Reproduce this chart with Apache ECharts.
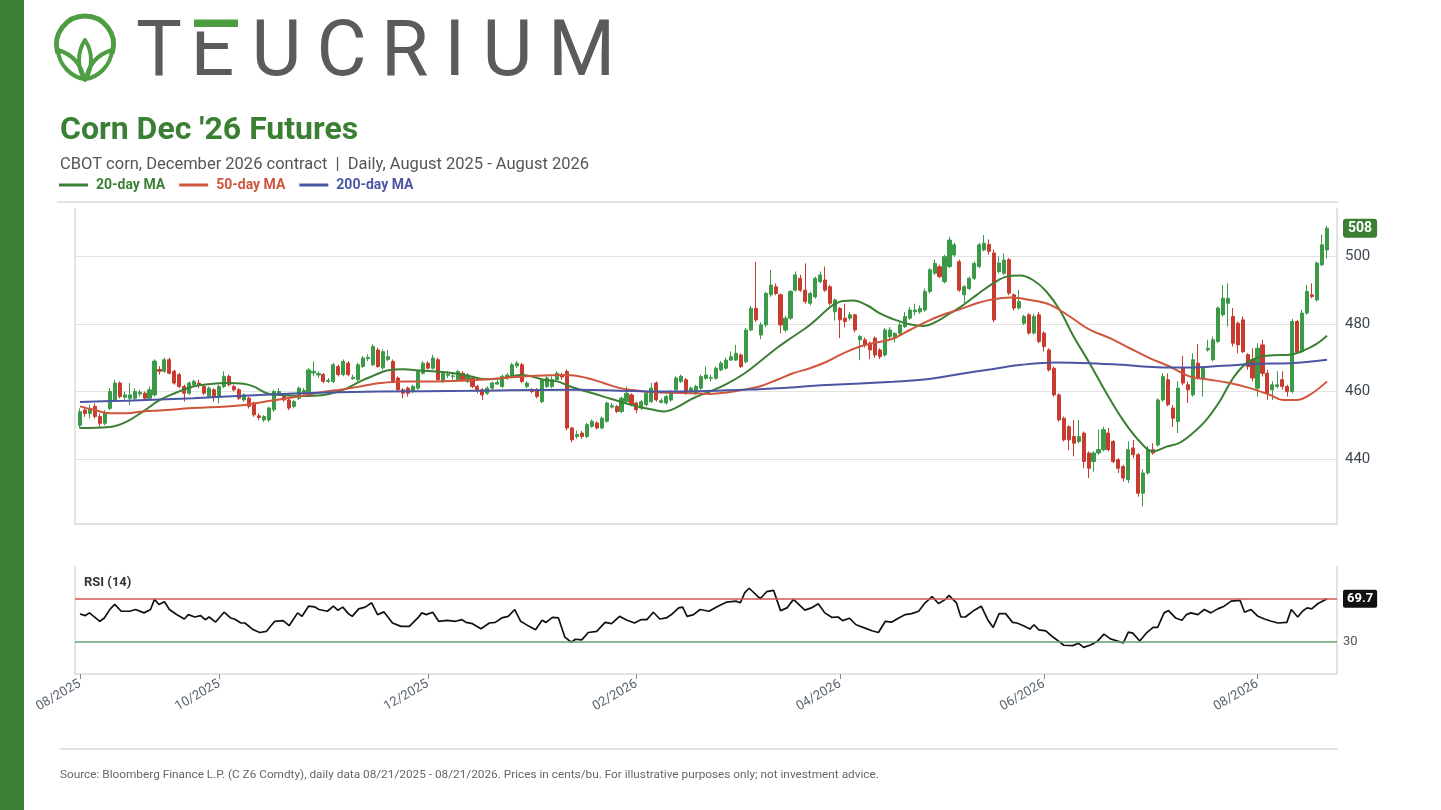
<!DOCTYPE html>
<html>
<head>
<meta charset="utf-8">
<script src="https://cdn.jsdelivr.net/npm/echarts@6.0.0/dist/echarts.min.js"></script>
<style>
html,body{margin:0;padding:0;background:#fff;}
#wrap{position:relative;width:1441px;height:810px;overflow:hidden;}
#chart{position:absolute;left:0;top:0;width:1441px;height:810px;}
#logo{position:absolute;left:0;top:0;}
</style>
</head>
<body>
<div id="wrap">
<div id="chart"></div>
<svg id="logo" width="640" height="100" xmlns="http://www.w3.org/2000/svg">
  <path d="M 57.5 52 A 28.5 28.5 0 1 1 112.5 52" fill="none" stroke="#4e9d43" stroke-width="5" stroke-linecap="round"/>
  <path d="M 84 79 C 72 77, 59 66, 58 50 C 71 54, 81 63, 84 79 Z" fill="none" stroke="#4e9d43" stroke-width="4" stroke-linejoin="round"/>
  <path d="M 86 79 C 98 77, 111 66, 112 50 C 99 54, 89 63, 86 79 Z" fill="none" stroke="#4e9d43" stroke-width="4" stroke-linejoin="round"/>
  <path d="M 85 80 C 77 68, 77 52, 85 40 C 93 52, 93 68, 85 80 Z" fill="none" stroke="#4e9d43" stroke-width="4" stroke-linejoin="round"/>
  <text x="136 190.5 251.6 316.4 381 444.3 482.5 548" y="75" font-family="Roboto" font-size="77" font-weight="400" fill="#5a5b5d">TEUCRIUM</text>
  <rect x="194" y="19.5" width="44" height="7.5" fill="#4e9d43"/>
  <rect x="194" y="27" width="12" height="4.5" fill="#ffffff"/>
</svg>
</div>
<script>
// ---------- text ----------
const TITLE = "Corn Dec '26 Futures";
const SUBTITLE = "CBOT corn, December 2026 contract  |  Daily, August 2025 - August 2026";
const SOURCE = "Source: Bloomberg Finance L.P. (C Z6 Comdty), daily data 08/21/2025 - 08/21/2026. Prices in cents/bu. For illustrative purposes only; not investment advice.";
const RSI_TITLE = "RSI (14)";

// ---------- x axis (trading-day index) ----------
const monthTickIdx = [0, 28, 70, 112, 153, 194, 237];
const monthTickLabels = ['08/2025', '10/2025', '12/2025', '02/2026', '04/2026', '06/2026', '08/2026'];
const priceTicks = [440, 460, 480, 500];
const rsiTicks = [30];

// ---------- daily OHLC (cents/bu), 252 trading days ----------
const opens = [
450,454.5,453.5,455.6,452.6,450.6,455,457.5,462.5,458.3,
458,458,459.3,459.5,458,459,466.5,466,469.4,466,
465,461.5,459.5,462,462.5,461.5,458.5,460.5,458.5,461.5,
464.5,461.5,460.5,457.5,458,456.6,452.8,451.6,451.6,454.6,
459.5,458.5,457.5,455.6,458,459.8,460,465.5,464.9,465,
463,463,467.4,465,468.4,463.8,463.5,467.4,469.7,467.9,
472.3,467,469.5,468.9,464,460.5,461,460,461,465.4,
468.4,466.9,469.4,463,464.8,464.5,463.5,465.4,463,464,
461.5,460.5,459.5,461,462.2,461.5,464,464.5,467.6,467.9,
461.5,460.5,460.5,457,461.5,461.5,463.5,464.8,465.9,449.2,
446.7,447.7,446.7,449.7,450.7,449.2,451.2,455.4,455.6,454.1,
457,459,456.6,455.1,456.1,457,462.5,456.8,456.6,457.5,
460.5,463,463.5,460,459.5,461,463.9,463.9,463.9,466.4,
466.9,469.3,469.3,470.8,468.8,478.2,484.6,476.7,479.7,488.6,
491,488.6,478.2,481.7,490,493.5,490,486.1,488,492.5,
493,491,483.6,484.6,481.7,481.7,482.7,475.3,475.3,474.3,
475.8,472.3,470.8,476.2,475.8,477.2,479.2,481.7,483.6,483.6,
484.1,489.6,495,496.9,492.5,497,500.4,498.4,488.6,490.5,
493.5,497,501.9,503.5,501,495.5,495,499,488.6,484.7,
480.2,482.7,477.3,482.7,477.3,472.3,466.9,459,452.1,449.6,
446.7,445.2,447.7,441.8,439.3,441.8,442.8,447.7,445.2,439.8,
437.8,433.9,443.3,441.3,429.9,435.9,442.8,444.2,457.5,463.5,
455.1,451.1,466.9,462,459,468.4,464,472.3,469.4,474.8,
482.7,486.1,482.2,480.2,481.2,470.9,469.4,461,473.8,465.4,
460.5,461.5,463.5,461.5,460,480.7,471.8,483.2,488.6,487.1,
497.5,501.9];
const closes = [
454,453.5,455,452.6,450.6,453.6,460,462.5,458.5,459,
459,460,459.8,458,460.5,469,466,469.4,465.4,462.5,
461.5,459.5,462.5,463,462,459.5,461,458.5,461.5,464.5,
462,460.5,458,459,455.6,453.1,452.3,452.6,455.1,460,
460,457.5,455.1,457,461,460.3,466.4,466,465.3,463,
463.3,467.9,465,468.9,465,464.2,467.9,469.9,470.1,473.3,
467.4,471.8,470.3,463,460.5,459.5,459.5,461.5,465.9,468.4,
466.9,469.9,463.5,465.4,465,464.6,465.9,463.5,464.9,461.5,
460.5,459,461,462.5,462.7,464.5,464.9,467.9,468.4,463,
462.5,460,458.5,463.5,464,463.5,465.4,464.3,449.2,445.7,
447.3,446.7,450.2,451.2,449.2,452.1,456.6,455.8,454.1,458,
459.5,456.1,454.6,457,459.5,461,457.5,457.3,458.5,460,
464,464.5,459.5,461,461.5,464.4,464.9,464.1,466.9,468.4,
469.3,470.3,471.3,467.4,478.2,484.6,481.2,479.7,489,491.5,
489,479.7,481.7,489.6,494.5,490,486.6,489,493.5,494.5,
490,486.1,487.1,481.2,480.7,482.7,478.2,476.3,473.8,472.3,
470.8,470.3,478.2,478.2,477.2,479.7,482.2,484.1,484.1,484.6,
489.6,496,497.9,494,499.9,504.8,503.4,490,491,493.5,
497.9,503.4,503.9,501.5,481.2,498,498.9,489.1,484.7,486.6,
482.2,477.3,482.2,474.8,473.3,466.4,459,451.6,445.7,445.7,
444.7,446.7,439.3,437.3,441.8,442.8,448.7,442.8,439.3,437.3,
434.4,442.8,441.3,429.9,435.9,442.8,441.8,457.5,464.4,456.1,
452.1,461,462.5,460.5,469.4,464,466.9,472.8,475.3,484.7,
487.6,487.6,474.3,473.8,471.8,467.4,464,472.8,465.4,459.5,
462,462,461.5,460,480.7,471.8,483.2,489.6,488.1,498,
503.4,508.3];
const lows = [
449,452.5,452,452,449.5,450,454.5,457,458,457.5,
456,457.5,458.5,457.5,457.5,458.5,465,465.5,465,462,
461,457,459,461.5,461,459,458,457,456.5,461,
461.5,460,457.5,457,455,452.5,451.5,451,451,454,
459,457,454.5,455,457.5,459,459.5,464.5,464,462.5,
462.5,462.5,464.5,464.5,464.5,463.5,463,467,469,467.5,
467,466.5,469,462.5,460,458,458.5,459.5,460.5,465,
466.5,466.5,463,462.5,464,463.5,463,463,462.5,461,
459.5,457.5,459,460.5,462,461,463.5,464,467,462.5,
461,459.5,458,456.5,461,461,463,463.5,448.5,445,
446,446,446.2,449.3,448.8,448.8,450.8,455,453.6,453.6,
456.6,455.6,453.6,454.6,455.6,456.6,457,456.5,456.1,457,
460,462.5,459,459.5,459,460.5,463.5,463,463.5,466,
466.5,469,469,467,468.3,477.8,480.5,475.5,479,488,
488.5,477.2,477.5,481.2,489.6,489.5,486,485.5,487.5,492,
489.5,485.5,481,475.8,479,481,477.5,469.3,473,469.6,
469.9,469.6,470.3,475.5,474.5,476.5,478.8,481.2,482.5,483,
483.6,489,494.5,493.5,492,496.5,499.9,489.5,485.6,490,
493,496.5,501.5,500.5,480.5,495,494.5,488.5,484,484.2,
479.7,476.8,476.8,474.3,471.8,465.9,458.5,451.1,445.2,442.6,
440.8,444.7,437.3,434.4,436.3,441.3,442.3,442.3,438.8,435.9,
433.4,432.9,440.3,428.9,426,435.4,441.3,443.7,457,455.6,
449.5,447.7,461.9,456.6,458.5,463.5,458.5,471.8,468.9,474.3,
482.2,479.2,473.3,471.3,471.3,466.4,463,458.5,464.4,457.5,
457.5,461,460.5,458.5,459.5,471.3,471.3,482.7,487.6,486.6,
497,499.4];
const highs = [
455,455.5,456,456.5,453.5,454.5,461,463.5,463,460,
462.5,461,460.5,460,461.5,469.5,467.5,470,470,466.5,
465.5,462,463,463.5,463.5,462,461.5,461,462,466,
465,462,461,459.5,458.5,457,453.5,453,455.5,460.5,
461,459.5,458,457.5,461.5,461,467,468.9,466,465.5,
464,468.5,468,469.5,469,465,468.5,470.5,471,474,
473,472.5,472.3,469.5,464.5,461,461.5,462,466.5,469,
469,470.9,470,466,466,465.5,466.5,466,465.5,464.5,
462,461,461.5,463,463.5,465,465.5,468.5,469,468.5,
463,461,461,464,464.5,464.5,466,465.5,466.5,449.5,
448.5,448.3,450.7,451.7,451.2,452.6,457,456.6,456,458.5,
461.5,459.5,457,457.5,460,462.5,463,458,459,460.5,
464.5,465,464,461.5,462,465,467.4,465,467.4,469,
470,471.8,473.8,471.3,478.8,485.3,498.4,480.5,489.5,496,
492,489,482.5,490,495.5,494.5,497.9,489.5,494,495.5,
497,491.5,487.5,485,486,483.5,483,476.7,476,474.8,
476.3,472.8,478.8,479,477.5,480.5,483.5,485,486,485.5,
490.5,496.5,499,497.5,500.5,505.8,504,499,491.5,494,
498.5,504,506.3,505,502,500,500.9,499.5,489,490.1,
482.7,483.2,483,483.5,477.8,472.8,467.4,459.5,452.6,450,
451.6,451.6,448.2,442.3,442.3,448.7,449.6,449.2,445.7,440.3,
438.3,445.2,445.7,441.8,437,443.8,444.7,458,465.4,465.4,
456,463,470.5,463,471.3,474,467.4,475.3,476.3,485.2,
491.5,492,484.7,480.7,482.2,471.3,472.8,474.3,475.3,466.4,
463,466,466,462,481.5,481.2,484.2,491.5,492,498.5,
506.4,509];

// ---------- moving averages: [trading-day index, value] ----------
const ma20 = [[0,449.2],[6,449.5],[9.4,451.1],[12.7,454.1],[16.1,457.5],[19.1,459.5],[22.8,461.5],[26.2,462.2],[29.5,462.5],[32.9,462.3],[34.9,461.5],[37.6,459.5],[40.3,459],[44.3,458.7],[49,459],[53,460.5],[56.4,463],[59.1,464.7],[61.8,466.2],[65.1,466.6],[68.5,466.2],[71.8,465.9],[75.2,465.4],[78.5,464.5],[81.9,463.6],[85.2,464],[88.6,464.9],[90.6,464.6],[93.3,463.5],[96,463],[98.7,461.5],[102,460],[105.4,458.5],[108.7,457],[112.1,455.6],[115.4,454.6],[117.5,454.1],[120.1,455.3],[123.4,458],[126.8,460],[130.1,462.2],[133.5,465.1],[136.8,468.8],[140.2,472.8],[143.5,476.2],[146.9,479.7],[150.3,484.1],[151.6,485.6],[153.6,486.8],[155.6,486.9],[158.3,485.6],[161,483.1],[163.7,481.4],[167,479.9],[169.7,479.4],[172.4,480.7],[175.1,483.1],[177.1,484.9],[180.5,488.6],[183.8,492],[186.5,494],[189.2,494.3],[191.8,493],[194.5,489.6],[197.2,484.1],[199.9,476.5],[203.2,468.4],[206.6,459.5],[209.9,451.6],[213.3,445.2],[216,442.3],[218.7,443.7],[221.4,444.9],[224,447.7],[226.7,451.6],[229.4,457.1],[232.1,464],[234.8,468.4],[237.5,470.2],[240.1,470.7],[243.5,470.9],[246.2,472.1],[248.9,474.1],[251,476.5]];
const ma50 = [[0,455.6],[2.7,454.6],[6,453.6],[9.4,453.6],[12.7,454.1],[16.1,454.4],[22.8,455.1],[29.5,455.6],[33.6,456.1],[37.6,457.1],[43,458.3],[48.3,459.7],[53,460.7],[56.4,461.5],[60.4,462.5],[65.1,463],[71.8,463],[78.5,463.3],[85.2,464],[91.9,464.7],[98,464.9],[102,464],[105.4,462.5],[108.7,461],[112.1,460.3],[115.4,459.8],[119,459.6],[123.4,459.5],[126.8,459.3],[130.1,459.7],[133.5,460.5],[136.8,461.5],[140.2,463.4],[143.5,465.4],[146.9,466.9],[150.3,468.8],[153.6,471.3],[157,473.3],[160.3,474.5],[163.7,475.7],[167,478.2],[170.4,480.7],[173.7,482.7],[177.1,484.3],[180.5,486.1],[183.8,487.3],[187.2,487.8],[191.2,487.1],[195.2,485.7],[199.2,482.2],[203.2,478.3],[207.3,475.8],[211.3,472.8],[215.3,469.9],[219.3,467.4],[223.4,464.4],[227.4,463.5],[231.4,462.5],[235.5,461],[239.5,459],[242.2,457.5],[244.8,457.5],[247.5,459],[251,463]];
const ma200 = [[0,456.9],[9.4,457.3],[22.8,458],[36.2,459],[49.7,459.7],[60.4,460],[78.5,460.2],[98.7,460.5],[118.8,460],[136.8,460.7],[150.3,461.9],[163.7,462.9],[170.4,463.6],[177.1,465.2],[183.5,466.6],[189.5,467.9],[196.5,468.6],[203.2,468.4],[209.9,467.9],[216.7,467.2],[223.4,467.1],[230.1,467.6],[236.8,468.2],[243.5,468.4],[251,469.4]];

// ---------- RSI(14): [trading-day index, value] ----------
const rsi14 = [[0,55.6],[1.1,54.1],[1.9,56.6],[4,48.8],[4.9,51.9],[6.1,60.3],[7,64.4],[8.3,58.1],[10,58.1],[11.2,59.7],[12.9,56.6],[14.2,59.7],[15,69.1],[15.9,64.4],[17,66.9],[18,59.7],[19.3,55.6],[21,50.9],[21.8,55],[23.1,52.8],[24.3,54.1],[25.2,50.3],[26,52.8],[27.3,48.1],[29,57.2],[30.3,51.9],[31.1,50.9],[32.4,47.2],[33.2,47.2],[34.9,40.9],[36.2,38.4],[37.5,39.4],[39.2,48.8],[40.9,49.4],[42.1,44.7],[43.8,56.6],[44.7,53.4],[46,62.8],[47.2,62.2],[48.1,59.7],[49.8,58.1],[51,62.8],[51.9,59.1],[52.9,61.9],[54,55.9],[54.8,53.4],[56.1,60.3],[57.4,61.9],[58.7,65.9],[59.9,55],[61.2,57.5],[62.9,47.2],[64.6,44.1],[66.3,44.1],[68,51.9],[68.8,56.6],[69.7,55],[71,57.2],[72.2,48.8],[73.9,49.7],[75.6,48.8],[76.9,50.3],[77.7,47.8],[79,46.6],[80.7,41.9],[82.4,47.2],[83.6,47.8],[84.9,51.9],[86.2,53.4],[87.5,59.7],[88.7,48.8],[90.4,44.1],[91.7,40.9],[93,49.7],[93.8,47.8],[95.1,52.5],[96.3,51.9],[97.6,34.1],[98.9,29.4],[99.7,32.2],[101,31.6],[102.3,38.4],[104,39.4],[105.7,47.8],[107,46.6],[108.6,53.4],[109.9,50.3],[111.6,47.2],[112.9,50.3],[114.1,50.3],[115.4,57.2],[116.7,50.9],[118,51.9],[119.2,55.6],[120.5,61.3],[121.3,61.9],[122.2,53.4],[123.5,55],[124.8,59.7],[126.6,58.1],[128.4,62.8],[130.2,66.6],[132,67.5],[132.9,65.9],[133.8,75.3],[134.7,79.4],[136.9,69.7],[138.2,76.2],[139.6,77.5],[141,58.7],[142.3,61.2],[143.6,69.1],[145.9,59.1],[147.2,61.2],[148.6,65],[149.9,56.6],[151.3,52.5],[152.6,52.8],[153.5,49.4],[154.9,51.6],[156.2,45.6],[158,42.5],[159.4,40],[160.7,38.4],[162.1,48.8],[163.4,48.1],[164.8,51.9],[166.1,55],[167.4,55.9],[168.8,58.1],[170.1,65.9],[171.5,71.6],[172.8,65.3],[174.2,69.1],[174.9,72.8],[176.4,65.9],[177.3,52.8],[178.2,52.8],[180,59.1],[181.4,62.8],[182.7,50.3],[183.8,43.1],[185,55.9],[186.3,55.9],[187.7,47.8],[188.6,47.2],[189.9,44.7],[191.2,41.6],[192,45.6],[193,40.9],[194.4,40],[195.7,34.7],[197.1,30],[198,26.6],[199.8,26.3],[201,28.4],[202,24.7],[203.4,26.9],[204.7,30],[206.1,36.9],[207.4,32.5],[208.8,30.6],[210,28.8],[211,38.8],[211.9,37.8],[213.3,30.6],[214.6,37.8],[216,43.1],[216.9,43.1],[218.2,56.6],[219.1,58.7],[220.5,51.9],[221.8,49.7],[222.7,55],[223.6,56.6],[225,55],[226.3,59.7],[227.6,56.6],[229,60.3],[230.3,62.8],[231.7,67.5],[233.5,68.1],[234.4,57.2],[235.7,59.7],[237.1,53.4],[238.4,50.9],[239.8,48.8],[241.1,47.2],[242.9,47.8],[243.8,59.7],[245.1,52.8],[246.1,58.4],[247,61.2],[247.9,60.3],[249.2,65.3],[251,69.7]];
const rsiOverbought = 70;
const rsiOversold = 30;

// ---------- styling ----------
const GREEN = '#3a7f33';
const UP = '#3b9a47';
const DOWN = '#c83b2e';
const MA20C = '#3a7f33';
const MA50C = '#cf553c';
const MA200C = '#4b56a3';
const BORDER = '#dadada';
const FONT = 'Roboto';
const HIDDEN_LINE = { color: 'rgba(0,0,0,0)', width: 0 };

const candleData = opens.map((o, i) => [i, o, closes[i], lows[i], highs[i]]);
const lastIdx = closes.length - 1;
const lastClose = closes[lastIdx];
const lastRsi = rsi14[rsi14.length - 1][1];

const chart = echarts.init(document.getElementById('chart'));
const option = {
  animation: false,
  backgroundColor: '#fff',
  textStyle: { fontFamily: FONT },
  title: [
    { text: TITLE, left: 60, top: 115, padding: 0,
      textStyle: { fontSize: 32, fontWeight: 'bold', color: GREEN, fontFamily: FONT } },
    { text: SUBTITLE, left: 60, top: 156, padding: 0,
      textStyle: { fontSize: 16.5, fontWeight: 'normal', color: '#555', fontFamily: FONT } },
    { text: RSI_TITLE, left: 84, top: 576, padding: 0,
      textStyle: { fontSize: 13, fontWeight: 'bold', color: '#333', fontFamily: FONT } },
    { text: SOURCE, left: 60, top: 769, padding: 0,
      textStyle: { fontSize: 11.8, fontWeight: 'normal', color: '#666', fontFamily: FONT } }
  ],
  legend: {
    left: 59, top: 178, padding: 0, icon: 'rect', itemWidth: 29, itemHeight: 3, itemGap: 14,
    selectedMode: false,
    textStyle: { fontSize: 14, fontWeight: 'bold', fontFamily: FONT, padding: [0, 0, 0, 3] },
    data: [
      { name: '20-day MA', textStyle: { color: MA20C } },
      { name: '50-day MA', textStyle: { color: MA50C } },
      { name: '200-day MA', textStyle: { color: MA200C } }
    ]
  },
  graphic: [
    { type: 'rect', shape: { x: 0, y: 0, width: 24, height: 810 }, style: { fill: GREEN }, silent: true },
    { type: 'line', shape: { x1: 57, y1: 202, x2: 1338, y2: 202 }, style: { stroke: BORDER, lineWidth: 1.5 }, silent: true },
    { type: 'line', shape: { x1: 60, y1: 749, x2: 1338, y2: 749 }, style: { stroke: BORDER, lineWidth: 1.5 }, silent: true }
  ],
  grid: [
    { left: 75, right: 104, top: 208, height: 316, outerBoundsMode: 'none' },
    { left: 75, right: 104, top: 566, height: 108, outerBoundsMode: 'none' }
  ],
  xAxis: [
    { type: 'value', gridIndex: 0, min: -1, max: 253,
      axisLine: { show: true, onZero: false, lineStyle: { color: BORDER, width: 1.5 } },
      axisTick: { show: false }, axisLabel: { show: false }, splitLine: { show: false } },
    { type: 'value', gridIndex: 1, min: -1, max: 253,
      axisLine: { show: true, onZero: false, lineStyle: { color: BORDER, width: 1.5 } },
      axisTick: { show: true, customValues: monthTickIdx, length: 5, lineStyle: { color: '#888' } },
      axisLabel: { show: true, customValues: monthTickIdx, rotate: 30, margin: 9,
        color: '#5b6470', fontSize: 13, fontFamily: FONT,
        formatter: v => { const k = monthTickIdx.indexOf(v); return k >= 0 ? monthTickLabels[k] : ''; } },
      splitLine: { show: false } }
  ],
  yAxis: [
    { type: 'value', gridIndex: 0, position: 'right', min: 420.8, max: 514.3, scale: true,
      axisLine: { show: true, onZero: false, lineStyle: { color: BORDER, width: 1.5 } },
      axisTick: { show: false, customValues: priceTicks },
      axisLabel: { show: true, customValues: priceTicks, color: '#3d4752', fontSize: 15, margin: 8, fontFamily: FONT },
      splitLine: { show: true, lineStyle: { color: '#e2e2e2', width: 1.2 } } },
    { type: 'value', gridIndex: 0, position: 'left', min: 420.8, max: 514.3, scale: true,
      axisLine: { show: true, onZero: false, lineStyle: { color: BORDER, width: 1.5 } },
      axisTick: { show: false }, axisLabel: { show: false }, splitLine: { show: false } },
    { type: 'value', gridIndex: 1, position: 'right', min: 0, max: 100,
      axisLine: { show: true, onZero: false, lineStyle: { color: BORDER, width: 1.5 } },
      axisTick: { show: false, customValues: rsiTicks },
      axisLabel: { show: true, customValues: rsiTicks, color: '#555', fontSize: 13, margin: 6, fontFamily: FONT },
      splitLine: { show: false } },
    { type: 'value', gridIndex: 1, position: 'left', min: 0, max: 100,
      axisLine: { show: true, onZero: false, lineStyle: { color: BORDER, width: 1.5 } },
      axisTick: { show: false }, axisLabel: { show: false }, splitLine: { show: false } }
  ],
  series: [
    { type: 'candlestick', name: 'Corn Dec 26', xAxisIndex: 0, yAxisIndex: 0,
      dimensions: ['day', 'open', 'close', 'lowest', 'highest'],
      encode: { x: 0, y: [1, 2, 3, 4] },
      data: candleData, barWidth: 3.6, z: 2, clip: false,
      itemStyle: { color: UP, color0: DOWN, borderColor: UP, borderColor0: DOWN, borderWidth: 1 },
      markLine: { silent: true, symbol: 'none', animation: false,
        data: [ { yAxis: lastClose, lineStyle: HIDDEN_LINE,
          label: { show: true, position: 'end', distance: 6, formatter: String(Math.round(lastClose)), opacity: 1,
            backgroundColor: GREEN, color: '#fff', fontWeight: 'bold', fontSize: 14, fontFamily: FONT,
            padding: [3, 5, 2, 5], borderRadius: 3 } } ] } },
    { type: 'line', name: '20-day MA', xAxisIndex: 0, yAxisIndex: 0, data: ma20, smooth: 0.4,
      showSymbol: false, color: MA20C, lineStyle: { width: 2, color: MA20C }, z: 4 },
    { type: 'line', name: '50-day MA', xAxisIndex: 0, yAxisIndex: 0, data: ma50, smooth: 0.4,
      showSymbol: false, color: MA50C, lineStyle: { width: 2, color: MA50C }, z: 4 },
    { type: 'line', name: '200-day MA', xAxisIndex: 0, yAxisIndex: 0, data: ma200, smooth: 0.4,
      showSymbol: false, color: MA200C, lineStyle: { width: 2, color: MA200C }, z: 4 },
    { type: 'line', name: 'RSI (14)', xAxisIndex: 1, yAxisIndex: 2, data: rsi14, clip: false,
      showSymbol: false, color: '#111', lineStyle: { width: 1.7, color: '#111' }, z: 4,
      markLine: { silent: true, symbol: 'none', animation: false,
        data: [
          { yAxis: rsiOverbought, lineStyle: { color: '#d9534f', width: 1.5, type: 'solid' }, label: { show: false } },
          { yAxis: rsiOversold, lineStyle: { color: '#5fa36a', width: 1.5, type: 'solid' }, label: { show: false } },
          { yAxis: lastRsi, lineStyle: HIDDEN_LINE,
            label: { show: true, position: 'end', distance: 6, formatter: lastRsi.toFixed(1), opacity: 1,
              backgroundColor: '#111', color: '#fff', fontWeight: 'bold', fontSize: 13, fontFamily: FONT,
              padding: [3, 4, 2, 4], borderRadius: 2 } }
        ] } }
  ]
};
chart.setOption(option);
</script>
</body>
</html>
